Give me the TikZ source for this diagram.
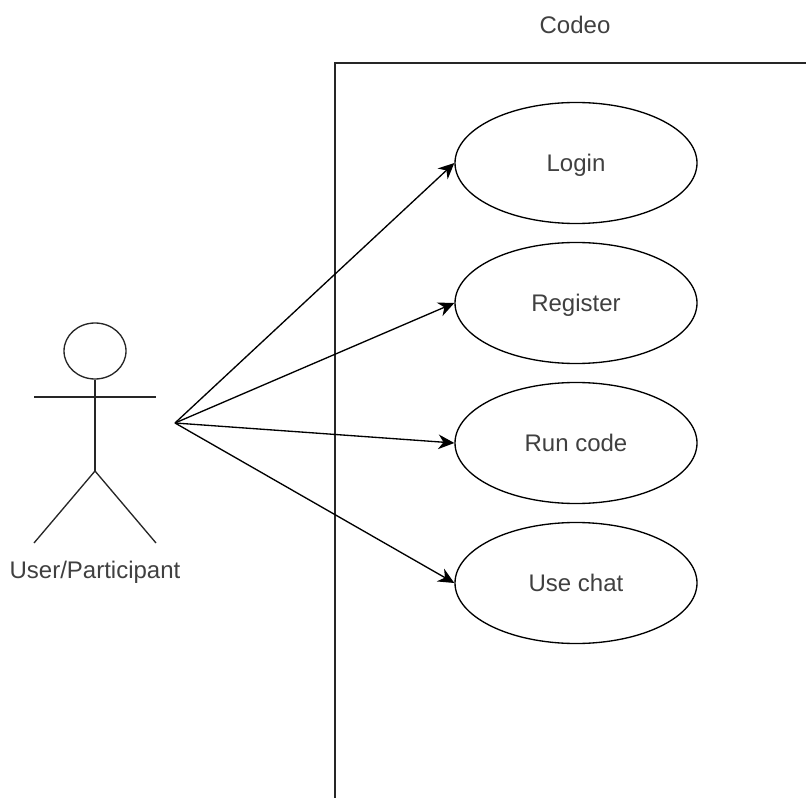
\documentclass[tikz,border=0pt]{standalone}
\usepackage{fontspec}
\setmainfont{Liberation Sans}
\usetikzlibrary{shapes, arrows, arrows.meta, calc}
\tikzset{
    usecase/.style={draw, line width=1pt, ellipse, minimum width=181.5pt, minimum height=90.75pt, inner sep=0pt, text=black!75, text height=13pt, text depth=0pt, font=\fontsize{18}{20}\selectfont},
    actorline/.style={line width=1pt, black!85},
    label/.style={text=black!75, text height=13pt, text depth=0pt, font=\fontsize{18}{20}\selectfont},
    link/.style={-{Stealth[length=12pt,width=11pt]}, line width=1pt}
}
\begin{document}
\begin{tikzpicture}[x=0.75pt, y=-0.75pt]
    \useasboundingbox (0,0) rectangle (806,798);
    % system boundary
    \coordinate (boxbottom) at (335,798);
    \coordinate (boxtopleft) at (335,63);
    \coordinate (boxtopright) at (806,63);
    \draw [actorline] (boxbottom) -- (boxtopleft) -- (boxtopright);
    \node [label] (codeo) at (575,25) {Codeo};
    % use cases
    \node [usecase] (login) at (576,163) {Login};
    \node [usecase] (register) at (576,303) {Register};
    \node [usecase] (runcode) at (576,443) {Run code};
    \node [usecase] (usechat) at (576,583) {Use chat};
    % actor
    \node [draw, ellipse, actorline, minimum width=46.5pt, minimum height=42pt, inner sep=0pt] (head) at (95,351) {};
    \coordinate (hip) at (95,471);
    \coordinate (armleft) at (34,397);
    \coordinate (armright) at (156,397);
    \coordinate (footleft) at (34,543);
    \coordinate (footright) at (156,543);
    \draw [actorline] (head.south) -- (hip);
    \draw [actorline] (armleft) -- (armright);
    \draw [actorline] (footleft) -- (hip) -- (footright);
    \node [label] (actor) at (95,570) {User/Participant};
    % connectors
    \coordinate (start) at (175,423);
    \draw [link] (start) -- (login.west);
    \draw [link] (start) -- (register.west);
    \draw [link] (start) -- (runcode.west);
    \draw [link] (start) -- (usechat.west);
\end{tikzpicture}
\end{document}
